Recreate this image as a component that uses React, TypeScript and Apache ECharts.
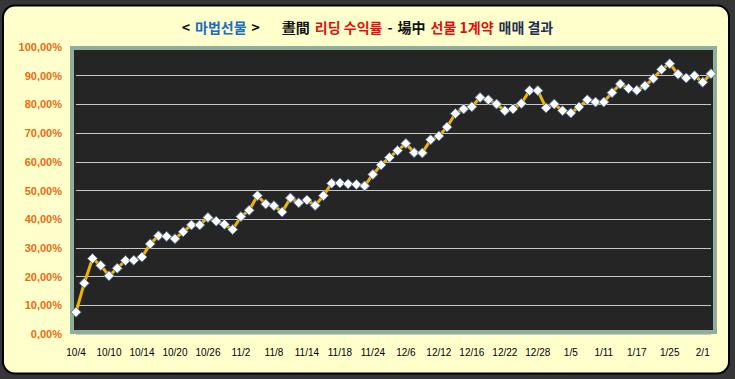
import React, { useEffect, useRef } from "react";
import * as echarts from "echarts";

const dates: string[] = [
  "10/4", "10/5", "10/6", "10/7",
  "10/10", "10/11", "10/12", "10/13",
  "10/14", "10/17", "10/18", "10/19",
  "10/20", "10/21", "10/24", "10/25",
  "10/26", "10/27", "10/28", "10/31",
  "11/2", "11/3", "11/4", "11/7",
  "11/8", "11/9", "11/10", "11/11",
  "11/14", "11/15", "11/16", "11/17",
  "11/18", "11/21", "11/22", "11/23",
  "11/24", "11/25", "11/30", "12/2",
  "12/6", "12/7", "12/8", "12/9",
  "12/12", "12/13", "12/14", "12/15",
  "12/16", "12/19", "12/20", "12/21",
  "12/22", "12/23", "12/26", "12/27",
  "12/28", "12/29", "1/3", "1/4",
  "1/5", "1/6", "1/9", "1/10",
  "1/11", "1/12", "1/13", "1/16",
  "1/17", "1/19", "1/20", "1/24",
  "1/25", "1/26", "1/27", "1/31",
  "2/1", "2/2",
];

const returns: number[] = [
  7.6, 17.7, 26.3, 23.9, 20.3, 22.9, 25.6, 25.7, 26.8, 31.4,
  34.2, 34.0, 33.2, 35.6, 38.0, 38.0, 40.6, 39.3, 38.2, 36.4,
  40.9, 43.1, 48.2, 45.3, 44.7, 42.5, 47.4, 45.7, 46.7, 44.8,
  48.2, 52.5, 52.6, 52.3, 52.1, 51.6, 55.6, 58.9, 61.5, 63.9,
  66.4, 63.2, 63.1, 67.7, 69.0, 72.1, 76.8, 78.4, 79.2, 82.4,
  81.6, 80.1, 77.8, 78.4, 80.3, 84.8, 84.8, 78.8, 80.1, 77.8,
  77.0, 79.1, 81.6, 80.8, 80.8, 84.1, 87.1, 85.5, 84.9, 86.5,
  89.0, 92.2, 94.2, 90.5, 89.2, 90.0, 87.7, 90.7,
];

const yMin = 0;
const yMax = 100;
const yStep = 10;

export default function App() {
  const ref = useRef<HTMLDivElement>(null);

  useEffect(() => {
    document.body.style.margin = "0";
    if (!ref.current) return;
    const chart = echarts.init(ref.current, undefined, { renderer: "svg" });
    const font = "Noto Sans CJK KR";
    const option: any = {
      animation: false,
      backgroundColor: "#363636",
      title: {
        left: "center",
        top: 13,
        text:
          "{k|<} {m|마법선물} {k|>}{g|}{k|晝間} {r|리딩 수익률} {k|-} {k|場中} {r|선물 1계약} {n|매매 결과}",
        textStyle: {
          rich: {
            k: { color: "#111111", fontSize: 14, fontWeight: "bold", fontFamily: font },
            m: { color: "#1a6cc4", fontSize: 14, fontWeight: "bold", fontFamily: font },
            r: { color: "#e01010", fontSize: 14, fontWeight: "bold", fontFamily: font },
            n: { color: "#1e3050", fontSize: 14, fontWeight: "bold", fontFamily: font },
            g: { width: 22 },
          },
        },
      },
      graphic: {
        elements: [
          {
            type: "rect",
            z: -10,
            silent: true,
            shape: { x: 3, y: 5.5, width: 726, height: 368, r: 12 },
            style: { fill: "#ffffcc", stroke: "#000000", lineWidth: 2 },
          },
          {
            type: "rect",
            z: -9,
            silent: true,
            shape: { x: 70, y: 46, width: 647, height: 288 },
            style: { fill: "#252525" },
          },
          {
            type: "rect",
            z: 1,
            silent: true,
            shape: { x: 72, y: 48, width: 643, height: 284 },
            style: { fill: "none", stroke: "#8fae9c", lineWidth: 4 },
          },
        ],
      },
      grid: { left: 76, right: 24, top: 47, bottom: 45 },
      xAxis: {
        type: "category",
        data: dates,
        boundaryGap: false,
        axisLine: { show: false },
        axisTick: { show: false },
        axisLabel: {
          interval: 3,
          margin: 13,
          color: "#000000",
          fontSize: 10,
          fontFamily: "Liberation Sans",
        },
        splitLine: { show: false },
      },
      yAxis: {
        type: "value",
        min: yMin,
        max: yMax,
        interval: yStep,
        axisLine: { show: false },
        axisTick: { show: false },
        axisLabel: {
          margin: 14,
          color: "#ee6a10",
          fontSize: 11,
          fontWeight: "bold",
          fontFamily: "Liberation Sans",
          formatter: (v: number) => v.toFixed(2).replace(".", ",") + "%",
        },
        splitLine: { show: true, lineStyle: { color: "#c8c8c8", width: 1 } },
      },
      series: [
        {
          type: "line",
          data: returns,
          symbol: "diamond",
          symbolSize: 10,
          showAllSymbol: true,
          lineStyle: { color: "#f0b400", width: 3 },
          itemStyle: { color: "#ffffff", borderColor: "#5a7aa0", borderWidth: 1 },
          z: 3,
        },
      ],
    };
    chart.setOption(option);
    return () => chart.dispose();
  }, []);

  return <div ref={ref} style={{ width: 735, height: 379 }} />;
}
